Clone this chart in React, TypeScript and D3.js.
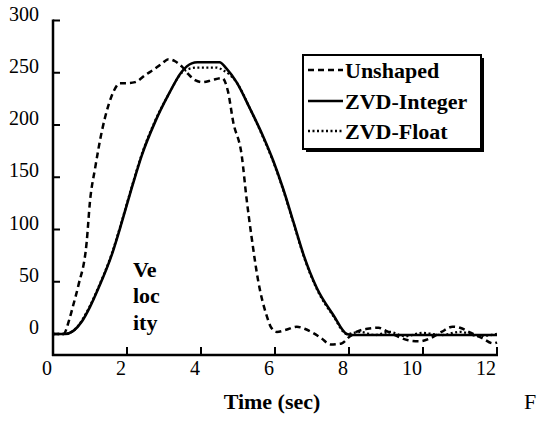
import React from "react";
import * as d3 from "d3";

const unshapedT = [0, 0.28, 0.45, 0.55, 0.69, 0.91, 1.0, 1.14, 1.32, 1.5, 1.65, 1.81, 2.0, 2.22, 2.5, 2.76, 2.95, 3.12, 3.3, 3.48, 3.65, 3.84, 4.05, 4.3, 4.57, 4.73, 4.87, 5.1, 5.23, 5.37, 5.55, 5.77, 5.9, 6.05, 6.3, 6.59, 6.8, 7.03, 7.25, 7.5, 7.8, 8.0, 8.2, 8.5, 8.8, 9.0, 9.3, 9.6, 9.9, 10.2, 10.5, 10.8, 11.0, 11.3, 11.6, 11.9, 12.0];
const unshapedV = [0, 0, 15, 28, 47, 88, 127, 159, 194, 219, 233, 240, 240, 241, 248, 254, 259, 263, 261, 256, 249, 243, 241, 243, 245, 232, 203, 171, 130, 92, 50, 18, 6, 2, 4, 7, 5, 1, -4, -10, -9, -3, 2, 5, 6, 3, -2, -6, -7, -4, 2, 7, 6, 1, -4, -9, -8];

const integerT = [0, 0.32, 0.55, 0.78, 1.0, 1.23, 1.59, 1.86, 2.13, 2.4, 2.76, 3.12, 3.48, 3.75, 3.9, 4.5, 4.69, 4.96, 5.32, 5.68, 5.95, 6.22, 6.5, 6.77, 7.13, 7.58, 7.94, 8.1, 12.0];
const integerV = [0, 0, 3, 12, 26, 44, 76, 107, 140, 171, 203, 229, 251, 259, 260, 260, 254, 241, 216, 189, 166, 139, 107, 76, 44, 18, 0, -1, -1];

const floatT = [0, 0.32, 0.55, 0.78, 1.0, 1.23, 1.59, 1.86, 2.13, 2.4, 2.76, 3.12, 3.48, 3.7, 3.9, 4.4, 4.62, 4.96, 5.32, 5.68, 5.95, 6.22, 6.5, 6.77, 7.13, 7.58, 7.94, 8.3, 8.7, 9.1, 9.5, 10.0, 10.5, 11.0, 11.5, 12.0];
const floatV = [0, 0, 3, 13, 27, 45, 77, 108, 141, 172, 204, 229, 250, 254, 255, 255, 252, 241, 216, 188, 165, 138, 106, 75, 43, 17, 0, 2, -1, 2, -2, 1, -1, 2, -2, 0];

const xTicks = [0, 2, 4, 6, 8, 10, 12];
const yTicks = [0, 50, 100, 150, 200, 250, 300];
const seriesNames = ["Unshaped", "ZVD-Integer", "ZVD-Float"];

const x = d3.scaleLinear().domain([0, 12]).range([53, 497]);
const y = d3.scaleLinear().domain([0, 300]).range([334, 20.5]);

const zip = (ts: number[], vs: number[]) => ts.map((t, i) => [t, vs[i]] as [number, number]);
const line = d3.line<[number, number]>().x((d) => x(d[0])).y((d) => y(d[1])).curve(d3.curveMonotoneX);

const styles = [
  { dash: "6,4", width: 2.5 },
  { dash: "none", width: 2.6 },
  { dash: "2,2.5", width: 2.3 },
];

const serif = "'Liberation Serif', 'Times New Roman', Times, 'DejaVu Serif', serif";
const T = { fontFamily: serif };

export default function App() {
  const data = [zip(unshapedT, unshapedV), zip(integerT, integerV), zip(floatT, floatV)];
  const axisBottom = 355;
  const legendRows = [70, 101, 131];
  return (
    <svg width={541} height={425} style={{ position: "absolute", left: 0, top: 0, background: "#fff" }}>
      <rect x={0} y={0} width={541} height={425} fill="#fff" />
      {data.map((d, i) => (
        <path key={i} d={line(d) || ""} fill="none" stroke="#000" strokeWidth={styles[i].width} strokeDasharray={styles[i].dash} />
      ))}
      <line x1={x(0)} x2={x(0)} y1={y(300) - 1} y2={axisBottom + 1} stroke="#000" strokeWidth={2.5} />
      <line x1={x(0) - 1} x2={x(12) + 1} y1={axisBottom} y2={axisBottom} stroke="#000" strokeWidth={2.5} />
      {yTicks.map((t) => (
        <g key={"y" + t}>
          <line x1={x(0)} x2={x(0) + 7} y1={y(t)} y2={y(t)} stroke="#000" strokeWidth={2} />
          <text x={39} y={y(t)} textAnchor="end" fontSize={20} style={T}>{t}</text>
        </g>
      ))}
      {xTicks.map((t) => (
        <g key={"x" + t}>
          <line x1={x(t)} x2={x(t)} y1={axisBottom} y2={axisBottom - 8} stroke="#000" strokeWidth={2} />
          <text x={x(t) - 1} y={375} textAnchor="end" fontSize={20} style={T}>{t}</text>
        </g>
      ))}
      <text x={272} y={409} textAnchor="middle" fontSize={22} fontWeight="bold" style={T}>Time (sec)</text>
      <text x={524} y={409} fontSize={22} style={T}>F</text>
      <text x={133} y={277} fontSize={22} fontWeight="bold" style={T}>Ve</text>
      <text x={133} y={303} fontSize={22} fontWeight="bold" style={T}>loc</text>
      <text x={133} y={330} fontSize={22} fontWeight="bold" style={T}>ity</text>
      <rect x={306} y={58} width={178} height={94} fill="#000" />
      <rect x={303} y={55} width={178} height={94} fill="#fff" stroke="#000" strokeWidth={2} />
      {seriesNames.map((n, i) => (
        <g key={n}>
          <line x1={308} x2={343} y1={legendRows[i]} y2={legendRows[i]} stroke="#000" strokeWidth={styles[i].width} strokeDasharray={styles[i].dash} />
          <text x={345} y={legendRows[i] + 8} fontSize={22} fontWeight="bold" style={T}>{n}</text>
        </g>
      ))}
    </svg>
  );
}
